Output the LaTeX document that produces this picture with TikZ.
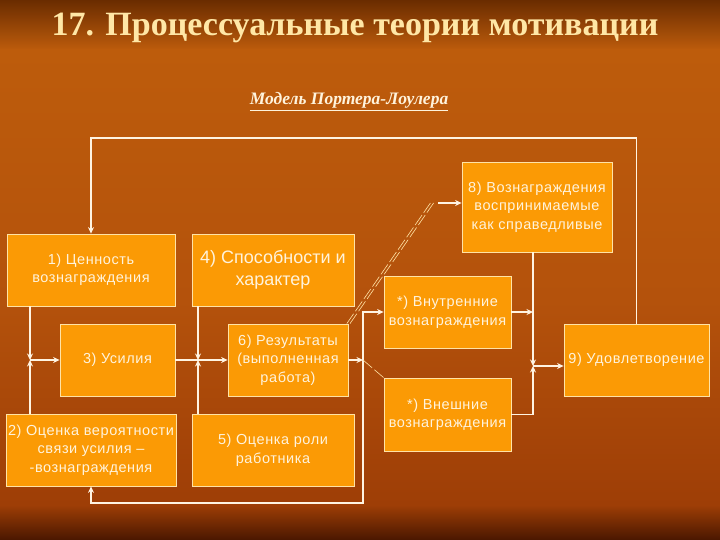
\documentclass[tikz,border=0pt]{standalone}
\usepackage{fontspec}
\setmainfont{Liberation Serif}
\newfontfamily\arialf[LetterSpace=4]{Liberation Sans}
\newfontfamily\arialbig{Liberation Sans}
\usetikzlibrary{arrows.meta}
\definecolor{boxfill}{HTML}{FB9A05}
\definecolor{boxline}{HTML}{FFE3A6}
\definecolor{wirec}{HTML}{FFF4E2}
\definecolor{txtc}{HTML}{FFF3DC}
\definecolor{titlec}{HTML}{FFE7A6}
\definecolor{bgA}{HTML}{6A2C00}
\definecolor{bgB}{HTML}{BD5C0C}
\definecolor{bgC}{HTML}{B4520C}
\definecolor{bgD}{HTML}{9E3E06}
\definecolor{bgE}{HTML}{4A1700}
\begin{document}
\begin{tikzpicture}[x=1pt,y=-1pt,
  box/.style={draw=boxline, line width=0.8pt, fill=boxfill, inner sep=2pt,
    align=center, text=txtc, font=\arialf\fontsize{14.5}{18.5}\selectfont},
  wire/.style={draw=wirec, line width=1.6pt},
  arr/.style={wire, -{Stealth[length=6.5pt,width=6pt]}},
  fineline/.style={draw=boxline, line width=0.6pt, dash pattern=on 12pt off 3pt},
]
\useasboundingbox (0,0) rectangle (720,540);
% background
\shade[top color=bgA, bottom color=bgB] (0,0) rectangle (720,50);
\shade[top color=bgB, bottom color=bgC] (0,50) rectangle (720,300);
\shade[top color=bgC, bottom color=bgD] (0,300) rectangle (720,505);
\shade[top color=bgD, bottom color=bgE] (0,505) rectangle (720,540);

% titles
\node[anchor=base, text=titlec, font=\fontsize{34}{36}\selectfont\bfseries] (title) at (355,36)
  {17. Процессуальные теории мотивации};
\node[anchor=base, text=txtc, font=\fontsize{17.5}{20}\selectfont\bfseries\itshape] (sub) at (349,105)
  {\underline{Модель Портера-Лоулера}};

% boxes
\node[box, minimum width=168pt, minimum height=72pt] (b1) at (91,270) {1) Ценность\\вознаграждения};
\node[box, minimum width=162pt, minimum height=72pt, font=\arialbig\fontsize{18}{22}\selectfont] (b4) at (273,270) {4) Способности и\\характер};
\node[box, minimum width=150pt, minimum height=90pt] (b8) at (537,207) {8) Вознаграждения\\воспринимаемые\\как справедливые};
\node[box, minimum width=127pt, minimum height=72pt] (bin) at (447.5,312) {*) Внутренние\\вознаграждения};
\node[box, minimum width=115pt, minimum height=72pt] (b3) at (117.5,360) {3) Усилия};
\node[box, minimum width=120pt, minimum height=72pt] (b6) at (288,360) {6) Результаты\\(выполненная\\работа)};
\node[box, minimum width=168pt, minimum height=72pt] (b2) at (91,450) {2) Оценка вероятности\\связи усилия –\\-вознаграждения};
\node[box, minimum width=162pt, minimum height=72pt] (b5) at (273,450) {5) Оценка роли\\работника};
\node[box, minimum width=127pt, minimum height=73pt] (bout) at (447.5,414.5) {*) Внешние\\вознаграждения};
\node[box, minimum width=145pt, minimum height=72pt] (b9) at (636.5,360) {9) Удовлетворение};

% junctions
\coordinate (j1) at (30,360);
\coordinate (j2) at (198,360);
\coordinate (j3) at (363,360);
\coordinate (j4) at (533,366);
\coordinate (t2) at (91,138);
\coordinate (bt) at (363,503);
\coordinate (d1) at (432,203);
\coordinate (d2) at (438,203);

% feedback top: 9 -> 1
\draw[arr] (b9.north) |- (t2) -- (b1.north);
% 1,2 -> 3
\draw[arr] (b1.south -| j1) -- (j1);
\draw[arr] (b2.north -| j1) -- (j1);
\draw[arr] (j1) -- (b3.west);
% 3,4,5 -> 6
\draw[wire] (b3.east) -- (j2);
\draw[arr] (b4.south -| j2) -- (j2);
\draw[arr] (b5.north -| j2) -- (j2);
\draw[arr] (j2) -- (b6.west);
% 6 -> rewards, feedback to 2
\draw[arr] (b6.east) -- (j3);
\draw[arr] (j3) |- (bin.west);
\draw[arr] (j3) -- (bt) -| (b2.south);
\draw[fineline] (j3) -- (bout.north west);
% 6 -> 8 (dashed)
\draw[fineline] ([xshift=-1.6pt]b6.north east) -- ([xshift=-1.6pt]d1);
\draw[fineline] ([xshift=1.6pt]b6.north east) -- ([xshift=1.6pt]d1);
\draw[arr] (d2) -- (d2 -| b8.west);
% rewards, 8 -> 9
\draw[arr] (bin.east) -- (bin.east -| j4);
\draw[arr] (b8.south -| j4) -- (j4);
\draw[arr] (bout.east) -| (j4);
\draw[arr] (j4) -- (j4 -| b9.west);
\end{tikzpicture}
\end{document}
